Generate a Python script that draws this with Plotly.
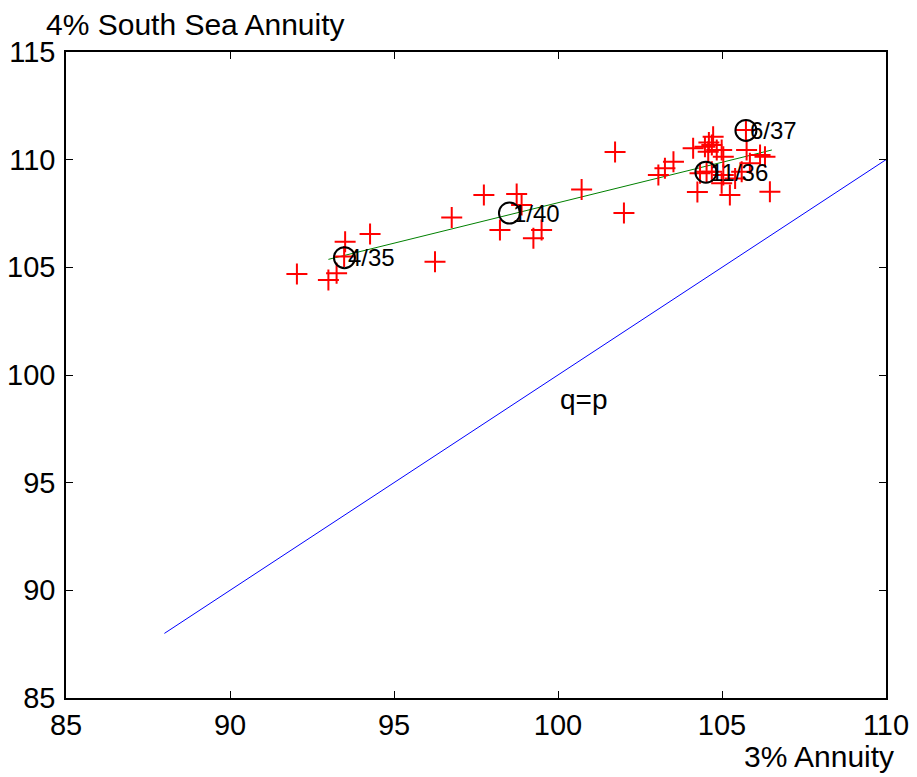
import plotly.graph_objects as go

# Observations (3% Annuity price p, 4% South Sea Annuity price q)
p_vals = [92.04, 93.00, 93.25, 93.51, 93.48, 94.27, 96.25, 96.76, 97.74, 98.23,
          98.74, 98.89, 99.25, 99.50, 100.72, 101.74, 102.01, 103.06, 103.26, 103.52,
          104.25, 104.12, 104.48, 104.69, 104.73, 104.58, 104.84, 104.99, 105.04, 105.75,
          106.16, 106.31, 105.85, 105.60, 104.53, 104.69, 104.33, 104.99, 105.24, 106.46,
          105.40, 105.73, 105.04, 104.60]
q_vals = [104.69, 104.41, 104.72, 106.19, 105.50, 106.55, 105.26, 107.32, 108.36, 106.73,
          108.40, 107.89, 106.35, 106.73, 108.62, 110.36, 107.52, 109.29, 109.60, 109.90,
          108.50, 110.53, 110.60, 110.68, 111.07, 110.37, 110.45, 110.45, 110.14, 110.45,
          110.22, 110.14, 109.83, 109.44, 109.44, 109.44, 109.37, 108.90, 108.36, 108.51,
          109.13, 111.38, 109.29, 110.80]

# Highlighted dates
mark_p = [93.49, 98.52, 104.51, 105.73]
mark_q = [105.45, 107.52, 109.42, 111.36]
mark_labels = ["4/35", "1/40", "11/36", "6/37"]

# Fitted line endpoints
fit_p = [93.0, 106.52]
fit_q = [105.37, 110.45]

# q = p line
eq_p = [88, 110]
eq_q = [88, 110]

x_ticks = [85, 90, 95, 100, 105, 110]
y_ticks = [85, 90, 95, 100, 105, 110, 115]

FONT = "Liberation Sans, Arial, Helvetica, sans-serif"

fig = go.Figure()
fig.add_trace(go.Scatter(x=eq_p, y=eq_q, mode="lines",
                         line=dict(color="#0000ff", width=1), showlegend=False))
fig.add_trace(go.Scatter(x=fit_p, y=fit_q, mode="lines",
                         line=dict(color="#008000", width=1), showlegend=False))
fig.add_trace(go.Scatter(x=p_vals, y=q_vals, mode="markers",
                         marker=dict(symbol="cross-thin", size=15,
                                     line=dict(color="#ff0000", width=2)),
                         showlegend=False))
fig.add_trace(go.Scatter(x=mark_p, y=mark_q, mode="markers",
                         marker=dict(symbol="circle-open", size=21, color="black",
                                     line=dict(color="black", width=2)),
                         showlegend=False))

for px, qy, lab in zip(mark_p, mark_q, mark_labels):
    fig.add_annotation(x=px, y=qy, text=lab, showarrow=False, xanchor="left",
                       yanchor="middle", xshift=2,
                       font=dict(family=FONT, size=24, color="black"))

fig.add_annotation(x=100.0, y=98.85, text="q=p", showarrow=False, xanchor="left",
                   yanchor="middle", font=dict(family=FONT, size=28, color="black"))

fig.add_annotation(xref="paper", yref="paper", x=1, y=0, text="3% Annuity",
                   showarrow=False, xanchor="right", yanchor="middle",
                   xshift=10, yshift=-58, font=dict(family=FONT, size=30, color="black"))
fig.add_annotation(xref="paper", yref="paper", x=0, y=1, text="4% South Sea Annuity",
                   showarrow=False, xanchor="left", yanchor="middle",
                   xshift=-22, yshift=28, font=dict(family=FONT, size=30, color="black"))

axis_common = dict(showgrid=False, zeroline=False, showline=True, linecolor="black",
                   linewidth=1.5, mirror="ticks", ticks="inside", ticklen=7,
                   tickcolor="black", tickwidth=1, automargin=False,
                   tickfont=dict(family=FONT, size=29, color="black"))

fig.update_xaxes(range=[85, 110], tickvals=x_ticks, ticktext=[str(v) for v in x_ticks],
                 **axis_common)
fig.update_yaxes(range=[85, 115], tickvals=y_ticks, ticktext=[str(v) for v in y_ticks],
                 ticklabelstandoff=3, **axis_common)

# page body adds an 8px margin, so the figure is 8px smaller and margins reduced
fig.update_layout(width=909, height=769, plot_bgcolor="white", paper_bgcolor="white",
                  margin=dict(l=58, r=31, t=44, b=79), showlegend=False)

fig.write_html("out.html")
